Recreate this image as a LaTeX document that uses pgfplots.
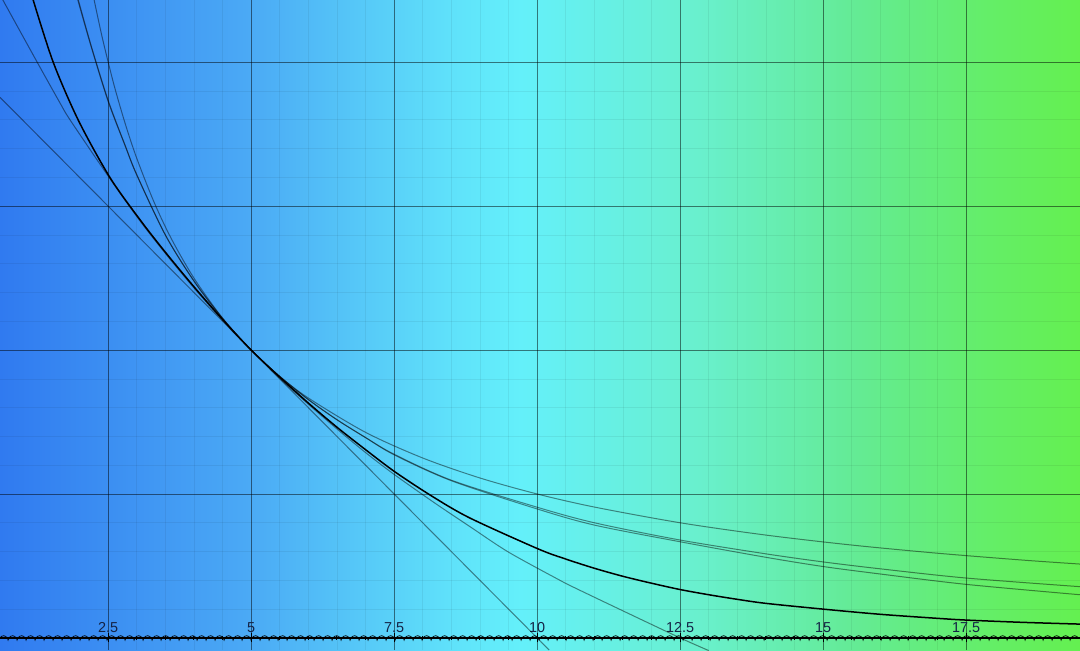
\documentclass[border=0pt]{standalone}
\usepackage{fontspec}
\setmainfont{Liberation Sans}
\usepackage{pgfplots}
\pgfplotsset{compat=1.18}
\usetikzlibrary{decorations.pathmorphing}

\definecolor{c0}{RGB}{48,122,240}
\definecolor{c1}{RGB}{75,170,245}
\definecolor{c2}{RGB}{95,225,250}
\definecolor{c3}{RGB}{100,240,250}
\definecolor{c4}{RGB}{105,240,205}
\definecolor{c5}{RGB}{100,235,150}
\definecolor{c6}{RGB}{100,238,100}
\definecolor{c7}{RGB}{100,240,80}
\pgfdeclarehorizontalshading{bgshade}{100bp}{color(0bp)=(c0); color(25bp)=(c0); color(36.6bp)=(c1); color(45.8bp)=(c2); color(49.1bp)=(c3); color(57.4bp)=(c4); color(64.4bp)=(c5); color(71.3bp)=(c6); color(75bp)=(c7); color(100bp)=(c7)}

\begin{document}
\begin{tikzpicture}
\shade[shading=bgshade] (0,0) rectangle (540pt,325pt);
\begin{axis}[
  at={(0,0)}, anchor=south west,
  scale only axis, width=540pt, height=325pt,
  xmin=0.61, xmax=19.49, ymin=-0.21, ymax=11.08,
  axis x line=middle, axis y line=left,
  x axis line style={-, black, line width=0.9pt},
  y axis line style={draw=none},
  xtick={2.5,5,7.5,10,12.5,15,17.5},
  ytick={0,2.5,5,7.5,10},
  yticklabels={},
  ytick style={draw=none},
  minor x tick num=4, minor y tick num=4,
  grid=both,
  major grid style={black, opacity=0.5, line width=0.35pt},
  minor grid style={black, opacity=0.06, line width=0.3pt},
  xtick align=center,
  xtick style={black, line width=0.5pt},
  major tick length=4.5pt, minor tick length=2pt,
  /pgf/number format/assume math mode=true,
  xticklabel style={anchor=south, yshift=1.5pt, font=\fontsize{7.2}{8}\selectfont, text={rgb,255:red,20;green,35;blue,70}},
]
% x axis decoration
\addplot[black, line width=0.35pt, decorate, decoration={coil, aspect=0.6, segment length=4.5pt, amplitude=1.1pt}] coordinates {(0.61,0) (19.49,0)};

% tangent line
\addplot[black, opacity=0.45, line width=0.5pt] coordinates {(0.61,9.39) (10.21,-0.21)};

% 25/x
\addplot[black, opacity=0.45, line width=0.5pt, smooth] coordinates {
(2.256,11.08)(2.4,10.417)(2.6,9.615)(2.8,8.929)(3.0,8.333)(3.3,7.576)(3.6,6.944)(4.0,6.25)(4.5,5.556)(5,5)(5.5,4.545)(6,4.167)(7,3.571)(8,3.125)(9,2.778)(10,2.5)(11,2.273)(12.5,2.0)(14,1.786)(15.5,1.613)(17,1.471)(18.5,1.351)(19.49,1.283)};

% B1
\addplot[black, opacity=0.45, line width=0.5pt, smooth] coordinates {
(1.98,11.08)(2.2,10.3)(2.5,9.34)(2.8,8.55)(3.0,8.05)(3.5,7.0)(4.0,6.2)(4.5,5.55)(5,5)(5.5,4.54)(6,4.14)(6.5,3.79)(7,3.48)(7.5,3.19)(8.5,2.74)(10,2.27)(11,2.0)(12.5,1.70)(14,1.46)(15,1.32)(16,1.2)(17.5,1.04)(19.49,0.89)};

% B2
\addplot[black, opacity=0.45, line width=0.5pt, smooth] coordinates {
(1.97,11.08)(2.2,10.28)(2.5,9.32)(2.8,8.54)(3.0,8.04)(3.5,7.0)(4.0,6.2)(4.5,5.55)(5,5)(5.5,4.54)(6,4.14)(6.5,3.79)(7,3.48)(7.5,3.18)(8.5,2.73)(10,2.24)(11,1.96)(12.5,1.67)(14,1.40)(15,1.24)(16,1.11)(17.5,0.93)(19.49,0.75)};

% D (polynomial-like)
\addplot[black, opacity=0.45, line width=0.5pt, smooth] coordinates {
(0.66,11.08)(1.26,10.0)(1.66,9.29)(1.84,8.99)(2.53,7.98)(3.06,7.24)(3.5,6.68)(4,6.08)(4.5,5.52)(5,5)(5.5,4.51)(6,4.06)(6.5,3.63)(7,3.22)(7.5,2.84)(8.2,2.35)(8.83,1.93)(9.5,1.49)(10.4,1.0)(10.7,0.85)(11.5,0.47)(12.5,0.0)(13,-0.22)};

% black function
\addplot[black, line width=0.75pt, smooth] coordinates {
(1.19,11.08)(1.54,10.0)(1.98,8.99)(2.53,8.0)(3.06,7.26)(3.5,6.7)(4.0,6.1)(4.51,5.52)(5,5)(5.51,4.52)(6,4.08)(6.5,3.66)(7,3.27)(7.52,2.88)(8.18,2.45)(8.83,2.08)(10.02,1.545)(10.5,1.37)(11,1.21)(11.5,1.07)(12,0.95)(12.5,0.84)(13,0.75)(13.5,0.67)(14,0.6)(15,0.5)(16,0.41)(17,0.34)(17.5,0.31)(18.5,0.27)(19.49,0.24)};
\end{axis}
\pgfresetboundingbox
\useasboundingbox (0,0) rectangle (540pt,325pt);
\end{tikzpicture}
\end{document}
